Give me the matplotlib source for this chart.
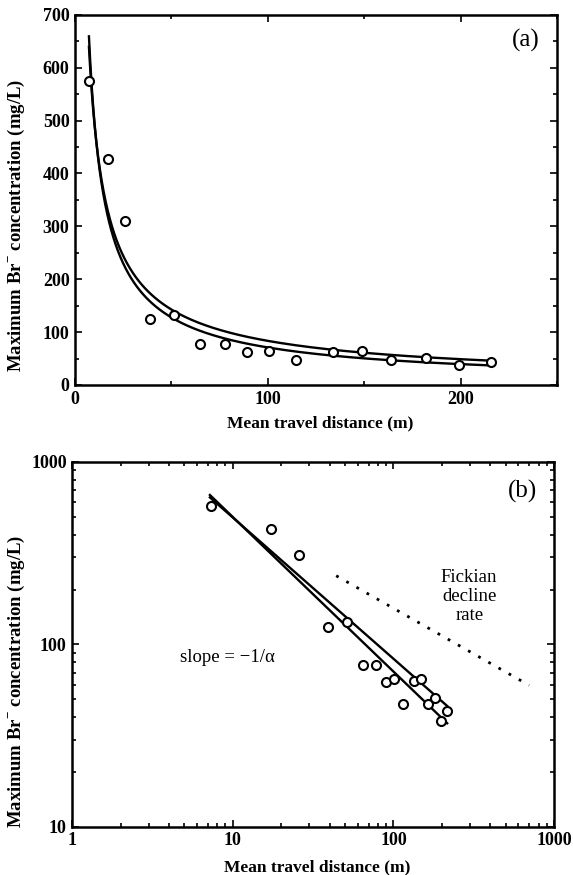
import numpy as np
import matplotlib
matplotlib.use('Agg')
from matplotlib import pyplot as plt
from matplotlib.ticker import MultipleLocator, FixedLocator, LogLocator, NullFormatter, FixedFormatter

plt.rcParams['font.family']=['Liberation Serif', 'DejaVu Serif']
plt.rcParams['mathtext.fontset']='custom'
plt.rcParams['mathtext.rm']='Liberation Serif:bold'
plt.rcParams['mathtext.bf']='Liberation Serif:bold'

# peak Br- concentration vs mean travel distance
dist=[7.3, 17.2, 26, 39, 51.5, 65, 78, 89.4, 100.6, 114.7, 134, 149, 164, 182, 199, 216]
conc=[575, 428, 310, 124, 133, 77, 77, 62, 65, 47, 63, 65, 47, 51, 38, 43]

# two power law fits C = a * x^-b
fit1_a, fit1_b = 3510, 0.847
fit2_a, fit2_b = 2948, 0.774
fit_x0, fit_x1 = 7.2, 216

# Fickian decline, slope -1/2
fick_x0, fick_x1, fick_c0 = 44, 700, 238

ylab='Maximum Br$^{-}$ concentration (mg/L)'
xlab='Mean travel distance (m)'

fig=plt.figure(figsize=(5.73,8.75), dpi=100)
ax1=fig.add_axes([0.131, 0.56, 0.841, 0.423])
ax2=fig.add_axes([0.126, 0.055, 0.841, 0.417])

xc=np.geomspace(fit_x0, fit_x1, 300)
xf=np.geomspace(fick_x0, fick_x1, 50)

def style(ax):
    for s in ax.spines.values(): s.set_linewidth(1.8)
    ax.tick_params(which='both', direction='in', top=True, right=True, width=1.2, labelsize=13, pad=4)
    ax.tick_params(which='major', length=5)
    ax.tick_params(which='minor', length=3)
    for t in ax.get_xticklabels()+ax.get_yticklabels(): t.set_fontweight('bold')

for ax in (ax1, ax2):
    ax.plot(xc, fit1_a*xc**-fit1_b, 'k-', lw=1.7, zorder=2)
    ax.plot(xc, fit2_a*xc**-fit2_b, 'k-', lw=1.7, zorder=2)
    ax.plot(dist, conc, 'o', mfc='white', mec='k', ms=6.5, mew=1.5, zorder=3)
    ax.set_ylabel(ylab, fontsize=13.5, fontweight='bold')
    ax.set_xlabel(xlab, fontsize=12.5, fontweight='bold')

# (a) linear
ax1.set_xlim(0, 250)
ax1.set_ylim(0, 700)
ax1.xaxis.set_major_locator(MultipleLocator(100))
ax1.xaxis.set_minor_locator(MultipleLocator(50))
ax1.yaxis.set_major_locator(MultipleLocator(100))
ax1.yaxis.set_minor_locator(MultipleLocator(50))
style(ax1)
ax1.text(0.935, 0.93, '(a)', transform=ax1.transAxes, fontsize=18, ha='center', va='center')
ax1.yaxis.set_label_coords(-0.1, 0.43)
ax1.xaxis.set_label_coords(0.508, -0.081)

# (b) log-log
ax2.set_xscale('log')
ax2.set_yscale('log')
ax2.set_xlim(1, 1000)
ax2.set_ylim(10, 1000)
ax2.plot(xf, fick_c0*(xf/fick_x0)**-0.5, 'k', lw=2, ls=(0, (1, 3.2)))
for a in (ax2.xaxis, ax2.yaxis):
    a.set_major_locator(LogLocator(base=10))
    a.set_minor_locator(LogLocator(base=10, subs=np.arange(2, 10)))
    a.set_minor_formatter(NullFormatter())
ax2.xaxis.set_major_locator(FixedLocator([1, 10, 100, 1000]))
ax2.xaxis.set_major_formatter(FixedFormatter(['1', '10', '100', '1000']))
ax2.yaxis.set_major_locator(FixedLocator([10, 100, 1000]))
ax2.yaxis.set_major_formatter(FixedFormatter(['10', '100', '1000']))
style(ax2)
ax2.text(0.935, 0.92, '(b)', transform=ax2.transAxes, fontsize=18, ha='center', va='center')
ax2.text(296, 184, 'Fickian\ndecline\nrate', fontsize=13.5, ha='center', va='center', linespacing=1.15)
ax2.text(4.7, 85, 'slope = \u22121/\u03b1', fontsize=13.5, ha='left', va='center')
ax2.yaxis.set_label_coords(-0.093, 0.40)
ax2.xaxis.set_label_coords(0.508, -0.09)

fig.savefig('out.png', dpi=100)
